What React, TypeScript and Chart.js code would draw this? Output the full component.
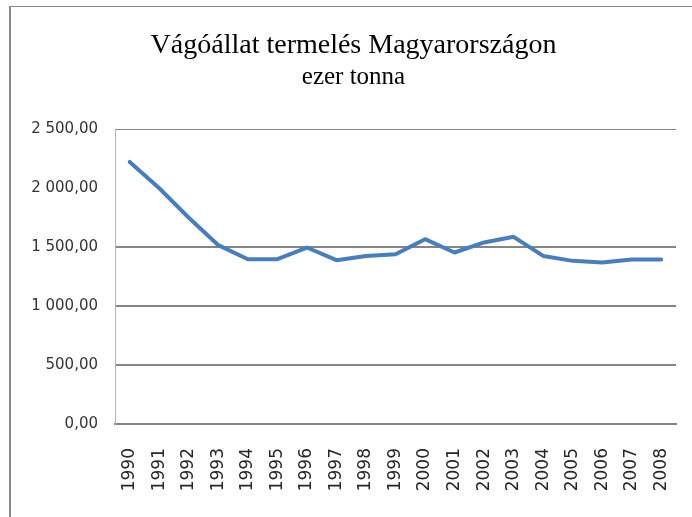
import React, { useEffect, useRef } from "react";
import { Chart, registerables } from "chart.js";

Chart.register(...registerables);

const years = [
  "1990", "1991", "1992", "1993", "1994", "1995", "1996", "1997", "1998", "1999",
  "2000", "2001", "2002", "2003", "2004", "2005", "2006", "2007", "2008",
];
const production = [
  2223, 2000, 1750, 1517, 1398, 1398, 1497, 1390, 1426, 1440,
  1568, 1455, 1540, 1588, 1426, 1384, 1370, 1396, 1396,
];
const yMin = 0;
const yMax = 2500;
const yStep = 500;
const hiddenGridValues = [2000];
const titleText = "Vágóállat termelés Magyarországon";
const subtitleText = "ezer tonna";

function formatHu(v: number): string {
  const fixed = Number(v).toFixed(2);
  const [i, d] = fixed.split(".");
  const intPart = i.replace(/\B(?=(\d{3})+(?!\d))/g, " ");
  return intPart + "," + d;
}

const framePlugin = {
  id: "frame",
  beforeDraw(chart: any) {
    const { ctx, width, height } = chart;
    ctx.save();
    ctx.fillStyle = "#ffffff";
    ctx.fillRect(0, 0, width, height);
    ctx.fillStyle = "#8a8a8a";
    ctx.fillRect(9, 6, 2, height - 6);
    ctx.fillRect(9, 6, width - 9, 1);
    ctx.restore();
  },
};

export default function App() {
  const ref = useRef<HTMLCanvasElement | null>(null);

  useEffect(() => {
    if (!ref.current) return;
    const chart = new Chart(ref.current, {
      type: "line",
      data: {
        labels: years,
        datasets: [
          {
            data: production,
            borderColor: "#4a7ebb",
            backgroundColor: "#4a7ebb",
            borderWidth: 4,
            pointRadius: 0,
            pointHoverRadius: 0,
            tension: 0,
            borderJoinStyle: "round",
            borderCapStyle: "round",
            fill: false,
          },
        ],
      },
      options: {
        animation: false,
        responsive: false,
        events: [],
        layout: { padding: { left: 31, right: 16, top: 0, bottom: 0 } },
        plugins: {
          legend: { display: false },
          tooltip: { enabled: false },
          title: {
            display: true,
            text: titleText,
            color: "#000000",
            font: { family: "'Liberation Serif', 'Times New Roman', serif", size: 28, weight: "normal" },
            padding: { top: 29, bottom: 0 },
          },
          subtitle: {
            display: true,
            text: subtitleText,
            color: "#000000",
            font: { family: "'Liberation Serif', 'Times New Roman', serif", size: 25, weight: "normal" },
            padding: { top: 0, bottom: 36.7 },
          },
        },
        scales: {
          x: {
            type: "category",
            offset: true,
            afterFit: (scale: any) => {
              scale.height = 93;
              scale.paddingLeft = 0;
              scale.paddingRight = 0;
            },
            grid: { display: false, drawTicks: false },
            border: { display: true, color: "#858585", width: 2 },
            ticks: {
              minRotation: 90,
              maxRotation: 90,
              autoSkip: false,
              padding: 24,
              color: "#262626",
              font: { family: "'DejaVu Sans', sans-serif", size: 17 },
            },
          },
          y: {
            min: yMin,
            max: yMax,
            afterFit: (scale: any) => {
              scale.width = 84;
            },
            grid: {
              drawTicks: false,
              color: (ctx: any) =>
                ctx.tick && hiddenGridValues.includes(ctx.tick.value) ? "rgba(0,0,0,0)" : "#858585",
              lineWidth: (ctx: any) => (ctx.tick && ctx.tick.value === yMax ? 1 : 2),
            },
            border: { display: true, color: "#b3b3b3", width: 1 },
            ticks: {
              stepSize: yStep,
              padding: 17,
              color: "#333333",
              font: { family: "'DejaVu Sans', sans-serif", size: 15 },
              callback: (v: any) => formatHu(Number(v)),
            },
          },
        },
      },
      plugins: [framePlugin],
    });
    return () => chart.destroy();
  }, []);

  return (
    <div style={{ position: "absolute", left: 0, top: 0, width: 692, height: 517, overflow: "hidden" }}>
      <canvas ref={ref} width={692} height={517} style={{ display: "block" }} />
    </div>
  );
}
